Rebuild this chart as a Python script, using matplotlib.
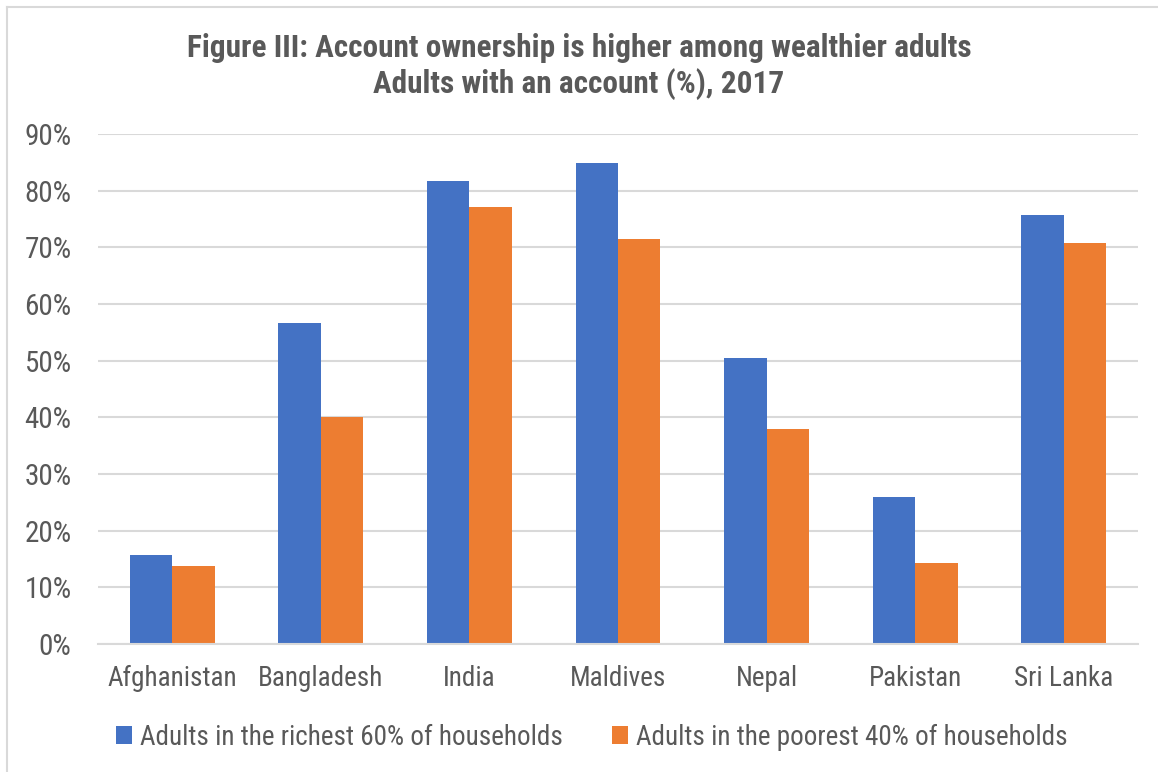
import matplotlib
matplotlib.use('Agg')
import matplotlib.pyplot as plt
import numpy as np
from matplotlib.lines import Line2D

countries = ['Afghanistan', 'Bangladesh', 'India', 'Maldives', 'Nepal', 'Pakistan', 'Sri Lanka']
richest_60 = [15.7, 56.6, 81.7, 84.9, 50.4, 25.9, 75.7]
poorest_40 = [13.8, 40.1, 77.1, 71.4, 37.9, 14.3, 70.7]
series_names = ['Adults in the richest 60% of households', 'Adults in the poorest 40% of households']
yticks = [0, 10, 20, 30, 40, 50, 60, 70, 80, 90]

plt.rcParams['font.family'] = ['Roboto Condensed', 'DejaVu Sans']

grey_text = '#595959'
grid_col = '#D9D9D9'
blue = '#4472C4'
orange = '#ED7D31'

fig = plt.figure(figsize=(11.58, 7.72), dpi=100)
ax = fig.add_axes([98/1158, 1 - 644/772, 1040/1158, 510/772])

x = np.arange(len(countries))
w = 1 / 3.5
ax.bar(x - w/2, richest_60, w, color=blue, label=series_names[0], zorder=3)
ax.bar(x + w/2, poorest_40, w, color=orange, label=series_names[1], zorder=3)

ax.set_xlim(-0.5, len(countries) - 0.5)
ax.set_ylim(0, 90)
ax.set_yticks(yticks)
ax.set_yticklabels([f'{t}%' for t in yticks])
ax.set_xticks(x)
ax.set_xticklabels(countries)
ax.tick_params(axis='y', length=0, labelsize=21, colors=grey_text, pad=19)
ax.tick_params(axis='x', length=0, labelsize=19.5, colors=grey_text, pad=15)
ax.yaxis.grid(True, color=grid_col, linewidth=1.5, zorder=0)
for s in ['top', 'right', 'left']:
    ax.spines[s].set_visible(False)
ax.spines['bottom'].set_color(grid_col)
ax.spines['bottom'].set_linewidth(1.5)
ax.spines['bottom'].set_zorder(4)

fig.text(0.5, 1 - 48/772, 'Figure III: Account ownership is higher among wealthier adults',
         ha='center', va='center', fontsize=22.5, fontweight='bold', color=grey_text)
fig.text(0.5, 1 - 84/772, 'Adults with an account (%), 2017',
         ha='center', va='center', fontsize=22.5, fontweight='bold', color=grey_text)

fig.legend(loc='center', bbox_to_anchor=(592/1158, 1 - 737/772), ncol=2, frameon=False,
           fontsize=19.5, handlelength=0.6, handleheight=0.6, handletextpad=0.3,
           columnspacing=1.8, labelcolor=grey_text)

# thin frame around the chart area
fig.add_artist(Line2D([7/1158, 7/1158], [0, 1 - 7/772], transform=fig.transFigure, color=grid_col, linewidth=1.5))
fig.add_artist(Line2D([7/1158, 1], [1 - 7/772, 1 - 7/772], transform=fig.transFigure, color=grid_col, linewidth=1.5))

fig.savefig('out.png', dpi=100)
